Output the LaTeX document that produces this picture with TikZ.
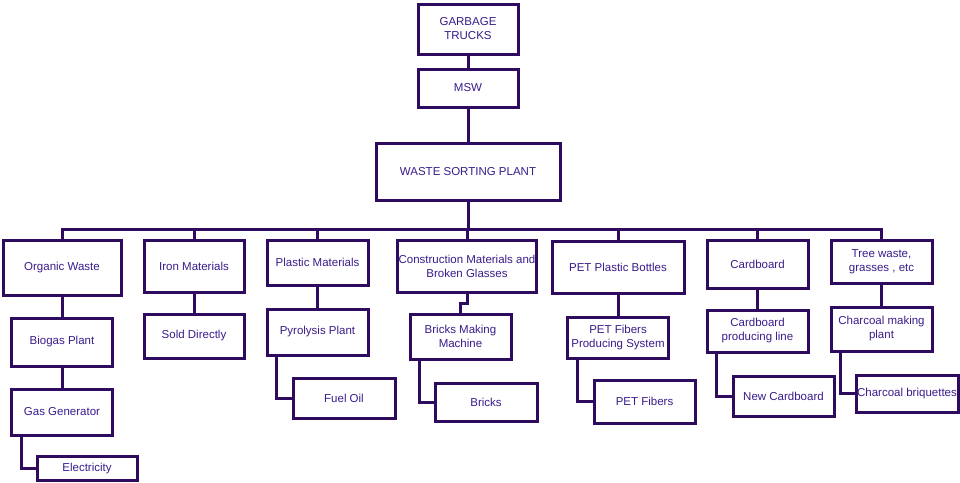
\documentclass[tikz,border=0pt]{standalone}
\usepackage{fontspec}
\setmainfont{Liberation Sans}
\usetikzlibrary{backgrounds}
\definecolor{linec}{HTML}{2E0B5E}
\definecolor{textc}{HTML}{3A1C8A}
\begin{document}
\begin{tikzpicture}[x=1pt,y=-1pt,
  box/.style={draw=linec, line width=3pt, fill=white, text=textc, align=center,
    inner sep=1pt, font=\fontsize{11.5}{14}\selectfont},
  conn/.style={draw=linec, line width=3pt}]
\useasboundingbox (0,0) rectangle (960,482);
% top chain
\node[box, minimum width=100, minimum height=50] (G) at (468,29) {GARBAGE\\TRUCKS};
\node[box, minimum width=100, minimum height=38] (MSW) at (468,88) {MSW};
\node[box, minimum width=184, minimum height=57] (WSP) at (468,171.5) {WASTE SORTING PLANT};
% column 1
\node[box, minimum width=118, minimum height=55] (OW) at (62,267.5) {Organic Waste};
\node[box, minimum width=101, minimum height=48] (BP) at (62,342) {Biogas Plant};
\node[box, minimum width=101, minimum height=46] (GG) at (62,412) {Gas Generator};
\node[box, minimum width=100, minimum height=24] (EL) at (87,468.5) {Electricity};
% column 2
\node[box, minimum width=100, minimum height=52] (IM) at (194,266) {Iron Materials};
\node[box, minimum width=100, minimum height=44] (SD) at (194,336) {Sold Directly};
% column 3
\node[box, minimum width=101, minimum height=45] (PM) at (317.5,262.5) {Plastic Materials};
\node[box, minimum width=101, minimum height=46] (PP) at (317.5,332) {Pyrolysis Plant};
\node[box, minimum width=102, minimum height=40] (FO) at (344,398) {Fuel Oil};
% column 4
\node[box, minimum width=138, minimum height=52] (CM) at (467,266) {Construction Materials and\\Broken Glasses};
\node[box, minimum width=101, minimum height=45] (BMM) at (460.5,336.5) {Bricks Making\\Machine};
\node[box, minimum width=102, minimum height=38] (BR) at (486,402) {Bricks};
% column 5
\node[box, minimum width=132, minimum height=52] (PET) at (618,267) {PET Plastic Bottles};
\node[box, minimum width=101, minimum height=41] (PFS) at (618,337.5) {PET Fibers\\Producing System};
\node[box, minimum width=101, minimum height=43] (PF) at (644.5,401.5) {PET Fibers};
% column 6
\node[box, minimum width=101, minimum height=48] (CB) at (757.5,264) {Cardboard};
\node[box, minimum width=101, minimum height=42] (CPL) at (757.5,331) {Cardboard\\producing line};
\node[box, minimum width=101, minimum height=40] (NC) at (783.5,396) {New Cardboard};
% column 7
\node[box, minimum width=101, minimum height=43] (TW) at (881.5,261.5) {Tree waste,\\grasses , etc};
\node[box, minimum width=101, minimum height=44] (CMP) at (881.5,329) {Charcoal making\\plant};
\node[box, minimum width=102, minimum height=37] (CBQ) at (907,393.5) {Charcoal briquettes};
\coordinate (bus) at (468,229);
\begin{scope}[on background layer]
  \fill[white] (0,0) rectangle (960,482);
  \draw[conn] (G) -- (MSW);
  \draw[conn] (MSW) -- (WSP);
  \draw[conn] (WSP.south) -- (bus);
  \foreach \n in {OW,IM,PM,CM,PET,CB,TW}{
    \draw[conn] (\n.north) |- (bus);
  }
  \draw[conn] (OW) -- (BP);
  \draw[conn] (BP) -- (GG);
  \draw[conn] ([xshift=11pt]GG.south west) |- (EL.west);
  \draw[conn] (IM) -- (SD);
  \draw[conn] (PM) -- (PP);
  \draw[conn] ([xshift=11pt]PP.south west) |- (FO.west);
  \draw[conn] (CM.south) -- ++(0,10) -| (BMM.north);
  \draw[conn] ([xshift=11pt]BMM.south west) |- (BR.west);
  \draw[conn] (PET) -- (PFS);
  \draw[conn] ([xshift=11pt]PFS.south west) |- (PF.west);
  \draw[conn] (CB) -- (CPL);
  \draw[conn] ([xshift=11pt]CPL.south west) |- (NC.west);
  \draw[conn] (TW) -- (CMP);
  \draw[conn] ([xshift=11pt]CMP.south west) |- (CBQ.west);
\end{scope}
\end{tikzpicture}
\end{document}
